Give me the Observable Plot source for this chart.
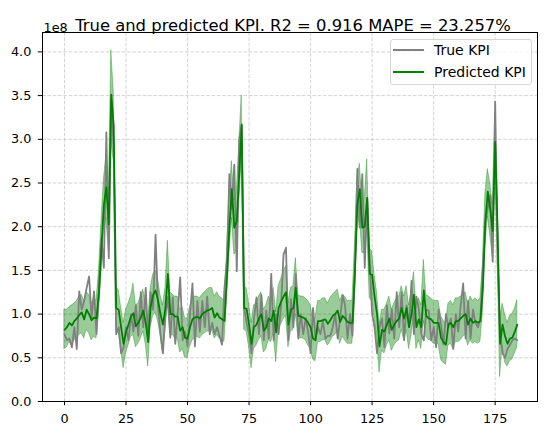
<!DOCTYPE html>
<html>
<head>
<meta charset="utf-8">
<script src="https://cdn.jsdelivr.net/npm/d3@7"></script>
<script src="https://cdn.jsdelivr.net/npm/@observablehq/plot@0.6"></script>
<style>
  html, body { margin: 0; padding: 0; background: white; }
  #wrap { position: relative; width: 547px; height: 435px; font-family: "DejaVu Sans", sans-serif; }
  #legend { position: absolute; left: 390px; top: 39px; width: 140px; height: 44px;
            border: 1px solid #d6d6d6; border-radius: 3px; background: rgba(255,255,255,0.8);
            font-size: 14px; color: #000; }
  .item { position: absolute; left: 2px; height: 14px; }
  .swatch { position: absolute; left: 0; width: 31px; height: 2px; }
  .label { position: absolute; left: 41px; white-space: nowrap; line-height: 14px; }
</style>
</head>
<body>
<div id="wrap"></div>
<script>
const titleText = "True and predicted KPI. R2 = 0.916 MAPE = 23.257%";
const offsetText = "1e8";
const seriesNames = ["True KPI", "Predicted KPI"];
const xTicks = [0, 25, 50, 75, 100, 125, 150, 175];
const yTicks = [0.0, 0.5, 1.0, 1.5, 2.0, 2.5, 3.0, 3.5, 4.0];

// values in units of 1e8
const trueKPI = [
  0.77,0.70,0.72,0.62,0.85,0.60,1.26,1.05,1.15,1.30,
  1.43,0.95,1.26,0.77,1.30,1.87,1.53,3.08,1.64,3.45,
  2.90,0.77,0.85,0.55,0.62,0.85,0.70,1.00,0.80,1.10,
  0.75,1.25,0.85,1.30,0.70,1.25,1.05,1.91,1.10,0.77,
  0.55,1.00,1.20,0.73,1.19,0.66,1.00,1.42,0.70,0.80,
  0.63,1.00,1.35,0.63,1.15,0.80,1.15,0.85,1.20,0.77,
  0.90,0.77,0.85,0.75,0.65,1.30,1.60,2.60,2.20,2.71,
  1.49,3.01,3.16,1.07,0.90,0.77,0.55,0.95,1.19,0.77,
  1.22,0.70,1.04,0.72,1.46,0.70,1.00,0.77,1.10,1.68,
  1.76,0.70,1.17,0.85,1.46,0.72,1.00,0.77,0.95,0.80,
  0.55,1.07,0.72,0.85,0.77,0.92,0.72,0.75,0.75,0.85,
  1.00,0.72,0.95,1.22,1.10,0.72,1.00,0.75,1.46,2.66,
  1.99,2.60,1.53,2.33,1.60,1.00,0.85,0.55,0.85,0.95,
  0.62,1.10,0.78,1.05,0.72,1.25,0.85,1.25,0.70,1.10,
  0.85,1.38,0.77,1.20,1.05,0.77,0.70,1.05,1.04,0.70,
  0.85,0.62,1.05,0.88,0.65,1.00,0.85,0.95,0.60,1.00,
  0.80,1.10,1.35,0.72,1.15,0.72,1.05,0.90,0.85,0.95,
  1.53,2.05,2.21,2.36,1.60,3.43,1.60,0.77,0.55,0.50,
  0.60,0.65,0.70,0.72,0.70
];
const predKPI = [
  0.82,0.85,0.90,0.87,0.92,0.95,0.99,1.02,0.94,1.05,
  1.00,0.93,0.96,0.95,1.25,1.75,2.25,2.45,2.03,3.51,
  3.15,1.07,1.05,0.85,0.66,0.80,0.88,0.97,1.01,0.86,
  0.90,0.96,1.04,0.90,0.68,1.08,1.22,1.27,1.16,1.00,
  0.88,1.07,1.46,1.00,1.00,0.97,0.97,0.81,0.85,0.73,
  0.72,0.85,0.94,0.96,0.97,0.95,1.00,1.02,1.04,1.05,
  1.07,0.96,1.01,0.96,0.94,0.92,1.42,1.99,2.43,1.99,
  2.06,2.60,3.17,1.07,1.06,0.88,0.66,0.85,0.88,0.95,
  1.00,0.81,0.85,0.95,0.92,1.04,0.79,1.07,1.14,1.20,
  1.25,0.88,1.05,1.07,1.30,0.98,0.97,0.96,0.94,0.90,
  0.85,0.72,0.70,0.92,0.92,0.93,0.94,0.89,0.93,0.98,
  1.00,1.04,0.91,0.98,0.95,0.91,0.90,0.90,1.49,2.26,
  2.43,1.99,2.00,2.33,1.46,1.45,1.20,1.00,0.63,0.82,
  0.80,0.88,0.95,0.82,0.88,0.92,0.95,1.07,0.95,1.07,
  0.85,1.00,1.22,0.85,0.94,0.85,1.27,0.98,0.95,0.94,
  0.90,0.90,0.90,0.73,0.68,0.65,0.88,0.90,0.85,0.92,
  0.92,0.95,0.98,1.00,0.88,0.95,0.90,0.92,0.90,0.92,
  1.30,2.06,2.40,2.20,1.95,2.97,1.95,0.66,0.88,0.75,
  0.66,0.72,0.73,0.80,0.88
];
const upperKPI = [
  1.05,1.05,1.08,1.10,1.12,1.15,1.20,1.22,1.15,1.25,
  1.22,1.12,1.18,1.15,1.50,2.05,2.55,2.80,2.35,4.02,
  3.55,1.30,1.28,1.08,0.90,1.05,1.12,1.20,1.35,1.10,
  1.12,1.20,1.28,1.12,0.92,1.30,1.45,1.50,1.40,1.22,
  1.10,1.30,1.84,1.25,1.22,1.20,1.20,1.05,1.08,0.95,
  0.95,1.08,1.18,1.20,1.20,1.18,1.22,1.25,1.28,1.30,
  1.30,1.20,1.25,1.20,1.18,1.15,1.70,2.30,2.75,2.30,
  2.40,2.95,3.50,1.32,1.30,1.12,0.90,1.10,1.12,1.20,
  1.25,1.05,1.10,1.20,1.15,1.30,1.02,1.32,1.40,1.48,
  1.55,1.12,1.30,1.32,1.64,1.22,1.20,1.20,1.18,1.15,
  1.10,0.95,0.95,1.15,1.15,1.18,1.18,1.12,1.18,1.22,
  1.25,1.28,1.15,1.22,1.20,1.15,1.15,1.15,1.78,2.55,
  2.72,2.30,2.32,2.77,1.75,1.72,1.45,1.25,0.88,1.05,
  1.05,1.12,1.20,1.05,1.12,1.18,1.20,1.32,1.20,1.32,
  1.10,1.25,1.48,1.10,1.18,1.10,1.62,1.22,1.20,1.18,
  1.15,1.15,1.15,0.98,0.92,0.90,1.12,1.15,1.10,1.18,
  1.18,1.20,1.22,1.25,1.12,1.20,1.15,1.18,1.15,1.18,
  1.58,2.38,2.66,2.50,2.25,3.30,2.25,0.92,1.12,1.00,
  0.90,0.98,1.00,1.06,1.16
];
const lowerKPI = [
  0.60,0.62,0.68,0.64,0.70,0.72,0.76,0.78,0.72,0.82,
  0.78,0.70,0.74,0.72,1.00,1.45,1.95,2.10,1.72,3.00,
  2.75,0.82,0.80,0.60,0.38,0.55,0.64,0.74,0.76,0.62,
  0.66,0.72,0.80,0.66,0.40,0.84,0.98,1.02,0.92,0.76,
  0.55,0.82,1.12,0.76,0.76,0.72,0.72,0.56,0.60,0.50,
  0.50,0.62,0.70,0.72,0.74,0.72,0.76,0.78,0.80,0.80,
  0.82,0.72,0.76,0.72,0.70,0.68,1.15,1.68,2.10,1.68,
  1.72,2.25,2.80,0.82,0.80,0.62,0.38,0.60,0.64,0.70,
  0.75,0.56,0.60,0.70,0.68,0.78,0.45,0.82,0.88,0.94,
  0.98,0.62,0.80,0.82,1.00,0.74,0.72,0.72,0.70,0.64,
  0.60,0.48,0.46,0.68,0.68,0.70,0.70,0.64,0.68,0.74,
  0.76,0.80,0.66,0.74,0.70,0.66,0.66,0.66,1.20,1.95,
  2.12,1.70,1.70,2.00,1.18,1.15,0.95,0.75,0.33,0.58,
  0.55,0.64,0.70,0.58,0.64,0.68,0.70,0.82,0.70,0.82,
  0.60,0.75,0.96,0.60,0.70,0.60,0.92,0.74,0.70,0.70,
  0.66,0.66,0.66,0.48,0.44,0.42,0.64,0.66,0.60,0.68,
  0.68,0.70,0.74,0.76,0.64,0.70,0.66,0.68,0.66,0.68,
  1.02,1.75,2.12,1.90,1.65,2.65,1.65,0.28,0.64,0.45,
  0.40,0.46,0.48,0.55,0.62
];

const rows = trueKPI.map((t, i) => ({i, t, p: predKPI[i], lo: lowerKPI[i], hi: upperKPI[i]}));

const gridStyle = {stroke: "#b0b0b0", strokeOpacity: 0.55, strokeDasharray: "3.7,1.6", strokeWidth: 1};

const chart = Plot.plot({
  width: 547,
  height: 435,
  marginLeft: 42,
  marginRight: 10,
  marginTop: 32,
  marginBottom: 34,
  style: {fontFamily: "DejaVu Sans", fontSize: "12.8px", background: "white", color: "black", overflow: "visible"},
  x: {domain: [-8.94, 192.2], label: null},
  y: {domain: [0, 4.222], label: null},
  marks: [
    Plot.gridX(xTicks, gridStyle),
    Plot.gridY(yTicks, gridStyle),
    Plot.areaY(rows, {x: "i", y1: "lo", y2: "hi", fill: "green", fillOpacity: 0.4, stroke: "green", strokeOpacity: 0.35, strokeWidth: 1}),
    Plot.lineY(rows, {x: "i", y: "t", stroke: "gray", strokeWidth: 1.8}),
    Plot.lineY(rows, {x: "i", y: "p", stroke: "green", strokeWidth: 1.8}),
    Plot.frame({stroke: "black", strokeWidth: 1}),
    Plot.axisX(xTicks, {tickSize: 4.2, tickPadding: 8, fontSize: 12.8, label: null, tickFormat: d => String(d)}),
    Plot.axisY(yTicks, {tickSize: 4.2, tickPadding: 7, fontSize: 12.8, label: null, tickFormat: d => d.toFixed(1)}),
    Plot.text([titleText], {frameAnchor: "top", dx: 3, dy: -13, fontSize: 16.4, fill: "black"}),
    Plot.text([offsetText], {frameAnchor: "top-left", dx: 1, dy: -10, textAnchor: "start", fontSize: 12.8, fill: "black"})
  ]
});

const wrap = document.getElementById("wrap");
wrap.appendChild(chart);

const legend = document.createElement("div");
legend.id = "legend";
const colors = ["gray", "green"];
const tops = [3, 25];
seriesNames.forEach((name, k) => {
  const item = document.createElement("div");
  item.className = "item";
  item.style.top = tops[k] + "px";
  const sw = document.createElement("div");
  sw.className = "swatch";
  sw.style.background = colors[k];
  sw.style.top = "6px";
  const lb = document.createElement("div");
  lb.className = "label";
  lb.textContent = name;
  item.appendChild(sw);
  item.appendChild(lb);
  legend.appendChild(item);
});
wrap.appendChild(legend);
</script>
</body>
</html>
